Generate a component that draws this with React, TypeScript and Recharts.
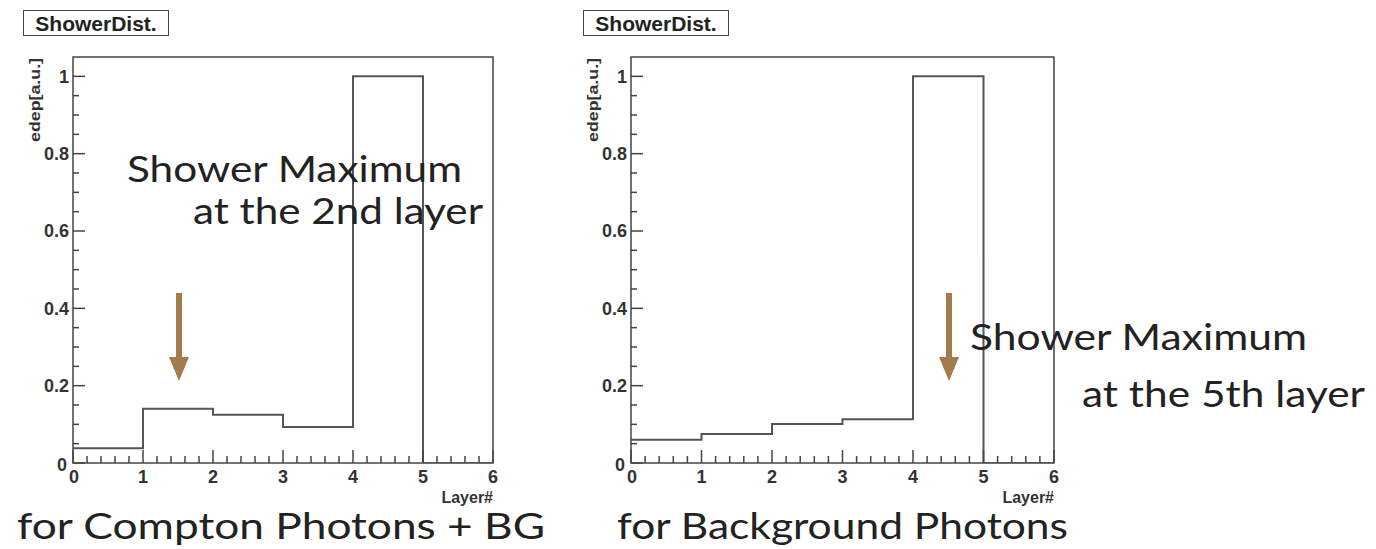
import { ComposedChart, Line, XAxis, YAxis, ReferenceArea } from "recharts";

// bin low edges (Layer#) and normalised energy deposit per layer
const layers = [0, 1, 2, 3, 4, 5, 6];
const comptonEdep = [0.038, 0.14, 0.125, 0.093, 1.0, 0, 0];
const backgroundEdep = [0.06, 0.075, 0.101, 0.113, 1.0, 0, 0];

const xTickLabels = ["0", "1", "2", "3", "4", "5", "6"];
const yTickLabels = ["0", "0.2", "0.4", "0.6", "0.8", "1"];

// axis ticks: majors every 1 / 0.2, minors in between (ROOT style)
const xTicks = Array.from({ length: 31 }, (_, i) => i / 5);
const yTicks = Array.from({ length: 21 }, (_, i) => Number((i * 0.05).toFixed(2)));

const AXIS = "#444";
const LINE = "#555";
const ARROW = "#a37b4d";
const rootFont = "'Liberation Sans', Arial, Helvetica, sans-serif";
const slideFont = "Lato, 'Open Sans', sans-serif";

const Y_AXIS_W = 40;
const X_AXIS_H = 30;

function XTick(props: any) {
  const { x, y, payload } = props;
  const v = payload.value;
  const major = Math.abs(v - Math.round(v)) < 1e-6;
  return (
    <g>
      <line x1={x} x2={x} y1={y} y2={y - (major ? 13 : 7)} stroke={AXIS} strokeWidth={1.5} />
      {major && (
        <text
          x={x + (v === 0 ? 1 : 0)}
          y={y + 20}
          textAnchor="middle"
          fontFamily={rootFont}
          fontWeight="bold"
          fontSize={18}
          fill="#333"
        >
          {xTickLabels[Math.round(v)]}
        </text>
      )}
    </g>
  );
}

function YTick(props: any) {
  const { x, y, payload } = props;
  const v = payload.value;
  const k = v / 0.2;
  const major = Math.abs(k - Math.round(k)) < 1e-6;
  return (
    <g>
      <line x1={x} x2={x + (major ? 12 : 6)} y1={y} y2={y} stroke={AXIS} strokeWidth={1.5} />
      {major && (
        <text
          x={x - (v === 0 ? 6 : 4)}
          y={y + (v === 0 ? 2 : 0)}
          dy="0.35em"
          textAnchor="end"
          fontFamily={rootFont}
          fontWeight="bold"
          fontSize={18}
          fill="#333"
        >
          {yTickLabels[Math.round(k)]}
        </text>
      )}
    </g>
  );
}

function ShowerHist({ values, left, plotLeft, plotRight }: any) {
  const width = 540;
  const height = 549;
  const data = layers.map((l, i) => ({ layer: l, edep: values[i] }));
  return (
    <div style={{ position: "absolute", left, top: 0, width, height }}>
      <ComposedChart
        width={width}
        height={height}
        data={data}
        margin={{
          top: 57,
          bottom: 86 - X_AXIS_H,
          left: plotLeft - left - Y_AXIS_W,
          right: left + width - plotRight,
        }}
      >
        <XAxis
          type="number"
          dataKey="layer"
          domain={[0, 6]}
          ticks={xTicks}
          interval={0}
          tickSize={0}
          tickMargin={0}
          axisLine={false}
          tickLine={false}
          height={X_AXIS_H}
          tick={<XTick />}
        />
        <YAxis
          type="number"
          domain={[0, 1.05]}
          ticks={yTicks}
          interval={0}
          tickSize={0}
          tickMargin={0}
          axisLine={false}
          tickLine={false}
          width={Y_AXIS_W}
          allowDataOverflow
          tick={<YTick />}
        />
        <ReferenceArea x1={0} x2={6} y1={0} y2={1.05} fill="none" stroke={AXIS} strokeWidth={1.5} />
        <Line
          type="stepAfter"
          dataKey="edep"
          stroke={LINE}
          strokeWidth={2}
          dot={false}
          isAnimationActive={false}
        />
      </ComposedChart>
      <div
        style={{
          position: "absolute",
          left: 23,
          top: 10,
          width: 144,
          height: 24,
          border: "1.5px solid #444",
          display: "flex",
          alignItems: "center",
          justifyContent: "center",
          fontFamily: rootFont,
          fontWeight: "bold",
          fontSize: 21,
          color: "#222",
          lineHeight: 1,
          boxSizing: "content-box",
        }}
      >
        ShowerDist.
      </div>
      <svg
        width={width}
        height={height}
        style={{ position: "absolute", left: 0, top: 0, pointerEvents: "none" }}
      >
        <text
          transform={`translate(${plotLeft - left - 38}, 100) rotate(-90)`}
          textAnchor="middle"
          dy="0.35em"
          fontFamily={rootFont}
          fontWeight="bold"
          fontSize={15}
          textLength={84}
          lengthAdjust="spacingAndGlyphs"
          fill="#333"
        >
          edep[a.u.]
        </text>
        <text
          x={plotRight - left}
          y={503}
          textAnchor="end"
          fontFamily={rootFont}
          fontWeight="bold"
          fontSize={16}
          fill="#333"
        >
          Layer#
        </text>
      </svg>
    </div>
  );
}

function Arrow({ x, y1, y2 }: any) {
  return (
    <g>
      <line x1={x} x2={x} y1={y1} y2={y2 - 20} stroke={ARROW} strokeWidth={6} />
      <polygon points={`${x - 10},${y2 - 24} ${x + 10},${y2 - 24} ${x},${y2}`} fill={ARROW} />
    </g>
  );
}

function SlideText({ x, y, w, children }: any) {
  return (
    <text
      x={x}
      y={y}
      fontFamily={slideFont}
      fontSize={37}
      fill="#222"
      textLength={w}
      lengthAdjust="spacingAndGlyphs"
    >
      {children}
    </text>
  );
}

export default function App() {
  return (
    <div
      style={{
        position: "absolute",
        left: 0,
        top: 0,
        width: 1376,
        height: 549,
        background: "#fff",
        overflow: "hidden",
      }}
    >
      <ShowerHist values={comptonEdep} left={0} plotLeft={73} plotRight={493} />
      <ShowerHist values={backgroundEdep} left={560} plotLeft={631} plotRight={1054} />
      <svg
        width={1376}
        height={549}
        style={{ position: "absolute", left: 0, top: 0, pointerEvents: "none" }}
      >
        <SlideText x={127} y={182} w={335}>Shower Maximum</SlideText>
        <SlideText x={193} y={224} w={290}>at the 2nd layer</SlideText>
        <Arrow x={179} y1={293} y2={381} />
        <SlideText x={970} y={350} w={337}>Shower Maximum</SlideText>
        <SlideText x={1082} y={407} w={283}>at the 5th layer</SlideText>
        <Arrow x={949} y1={293} y2={381} />
        <SlideText x={17} y={539} w={528}>for Compton Photons + BG</SlideText>
        <SlideText x={617} y={539} w={451}>for Background Photons</SlideText>
      </svg>
    </div>
  );
}
